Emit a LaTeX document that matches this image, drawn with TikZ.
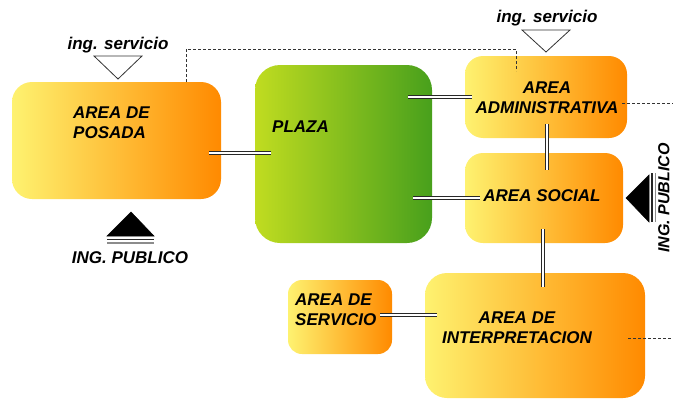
\documentclass[tikz,border=0pt]{standalone}
\usepackage{fontspec}
\setmainfont{Liberation Sans}
\definecolor{ylw}{RGB}{254,242,112}
\definecolor{mid}{RGB}{255,196,60}
\definecolor{org}{RGB}{255,138,0}
\definecolor{gL}{RGB}{192,220,32}
\definecolor{gM}{RGB}{150,202,26}
\definecolor{gR}{RGB}{72,160,28}
\definecolor{lnk}{RGB}{40,40,40}
\begin{document}
\begin{tikzpicture}[x=1pt,y=-1pt,
  obox/.style={rectangle,draw=none,left color=ylw,middle color=mid,right color=org,inner sep=0pt},
  gbox/.style={rectangle,draw=none,left color=gL,middle color=gM,right color=gR,inner sep=0pt},
  lbl/.style={font=\fontsize{17}{20}\selectfont\bfseries\itshape,text=black,inner sep=0pt},
  dbl/.style={draw=lnk,line width=0.7pt,double=white,double distance=2.4pt},
  dsh/.style={draw=black!80,line width=0.7pt,dash pattern=on 3pt off 2pt},
  tri/.style={draw=black!80,line width=0.8pt,fill=white},
  ftri/.style={fill=black,draw=black,line width=0.5pt}]
\useasboundingbox (0,0) rectangle (673,399);
% boxes
\node[obox,minimum width=209pt,minimum height=117pt,rounded corners=20pt] (posada) at (116.5,140.5) {};
\node[gbox,minimum width=177pt,minimum height=178pt,rounded corners=25pt] (plaza) at (343.5,154) {};
\node[obox,minimum width=162pt,minimum height=82pt,rounded corners=18pt] (admin) at (546,97) {};
\node[obox,minimum width=158pt,minimum height=90pt,rounded corners=18pt] (social) at (544,198) {};
\node[obox,minimum width=104pt,minimum height=74pt,rounded corners=14pt] (servicio) at (340,317) {};
\node[obox,minimum width=220pt,minimum height=125pt,rounded corners=22pt] (interp) at (535,335.5) {};
% texts
\node[lbl,align=left,anchor=west] (tposada) at (73,123) {AREA DE\\POSADA};
\node[lbl,anchor=west] (tplaza) at (272,127) {PLAZA};
\node[lbl,align=center] (tadmin) at (547,97.5) {AREA\\ADMINISTRATIVA};
\node[lbl] (tsocial) at (542,196) {AREA SOCIAL};
\node[lbl,align=left,anchor=west] (tserv) at (295,310) {AREA DE\\SERVICIO};
\node[lbl,align=center] (tinterp) at (517,327.5) {AREA DE\\INTERPRETACION};
% connector end points
\coordinate (p1) at (209,153); \coordinate (q1) at (271,153);
\coordinate (p2) at (408,97);  \coordinate (q2) at (472,97);
\coordinate (p3) at (413,198); \coordinate (q3) at (480,198);
\coordinate (p4) at (547,124); \coordinate (q4) at (547,170);
\coordinate (p5) at (543,229); \coordinate (q5) at (543,287);
\coordinate (p6) at (380,315); \coordinate (q6) at (437,315);
\draw[dbl] (p1) -- (q1);
\draw[dbl] (p2) -- (q2);
\draw[dbl] (p3) -- (q3);
\draw[dbl] (p4) -- (q4);
\draw[dbl] (p5) -- (q5);
\draw[dbl] (p6) -- (q6);
% dashed
\coordinate (d1) at (186,82); \coordinate (d2) at (516,71);
\draw[dsh] (d1) -- (186,49) -- (516,49) -- (d2);
\coordinate (d3) at (622,103); \coordinate (d4) at (673,103);
\draw[dsh] (d3) -- (d4);
\coordinate (d5) at (628,338); \coordinate (d6) at (673,338);
\draw[dsh] (d5) -- (d6);
% service entries
\node[lbl] (ts1) at (118,45) {ing. servicio};
\draw[tri] (94,56) -- (142,56) -- (118,79) -- cycle;
\node[lbl] (ts2) at (547,18) {ing. servicio};
\draw[tri] (522,30) -- (570,30) -- (546,52) -- cycle;
% public entries
\draw[ftri] (107,236) -- (154,236) -- (131,212) -- cycle;
\draw[black!85,line width=1.3pt] (107,239.5) -- (154,239.5);
\draw[black!45,line width=1.3pt] (107,243) -- (154,243);
\node[lbl] (tp1) at (130,258) {ING. PUBLICO};
\draw[ftri] (649,175) -- (649,222) -- (626,198) -- cycle;
\draw[black!85,line width=1.2pt] (652,173) -- (652,222);
\draw[black!45,line width=1.2pt] (655.5,173) -- (655.5,222);
\node[lbl,rotate=90,anchor=north,font=\fontsize{16}{19}\selectfont\bfseries\itshape] (tp2) at (658,198) {ING. PUBLICO};
\end{tikzpicture}
\end{document}
